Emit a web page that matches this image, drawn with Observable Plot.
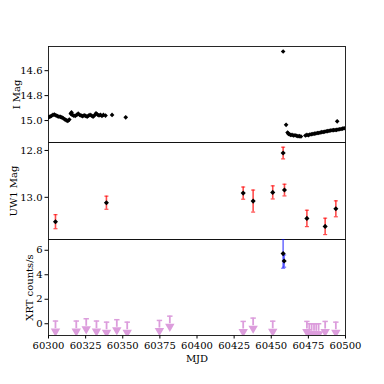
<!DOCTYPE html>
<html><head><meta charset="utf-8">
<script src="https://cdn.jsdelivr.net/npm/d3@7"></script>
<script src="https://cdn.jsdelivr.net/npm/@observablehq/plot@0.6"></script>
<style>
body{margin:0;background:#fff;}
#wrap{position:relative;width:384px;height:384px;}
#wrap svg{position:absolute;left:0;overflow:visible;}
</style></head><body><div id="wrap"></div>
<script>
// I band photometry
const iMjd = [60300,60301,60302,60303,60304,60305,60306,60307,60308,60309,60310,60311,60312,60313,60314,60315,60315.5,60316,60317,60318,60319,60320,60321,60322,60323,60324,60325,60326,60327,60328,60329,60330,60331,60332,60333,60334,60335,60336,60337,60338.4,60342.8,60352,
  60458,60460,60461,60461.5,60462,60463,60464,60465,60466,60467,60468,60469,60470,60473,60474,60475,60476,60477,60478,60479,60480,60481,60482,60483,60484,60485,60486,60487,60488,60489,60490,60491,60492,60493,60494,60494.4,60495,60496,60497,60498,60499,60500];
const iMag = [14.975,14.968,14.962,14.955,14.952,14.958,14.965,14.968,14.970,14.975,14.982,14.990,14.998,15.003,14.992,14.945,14.935,14.955,14.960,14.962,14.955,14.945,14.955,14.960,14.965,14.958,14.962,14.968,14.960,14.955,14.960,14.968,14.958,14.942,14.952,14.958,14.955,14.962,14.955,14.960,14.955,14.974,
  14.446,15.034,15.096,15.105,15.110,15.115,15.115,15.120,15.118,15.122,15.125,15.125,15.128,15.120,15.115,15.118,15.112,15.110,15.108,15.105,15.104,15.100,15.100,15.096,15.093,15.092,15.090,15.086,15.085,15.082,15.080,15.078,15.077,15.076,15.075,15.006,15.072,15.070,15.068,15.065,15.062,15.060];

// UVOT UW1 photometry
const uwMjd = [60304.7,60339.0,60431.1,60437.8,60451.0,60458.0,60458.9,60474.0,60486.3,60493.5];
const uwMag = [13.104,13.023,12.982,13.016,12.979,12.811,12.969,13.090,13.124,13.049];
const uwErr = [0.030,0.028,0.026,0.047,0.028,0.025,0.025,0.035,0.035,0.034];

// XRT detections
const xrtMjd = [60458.0,60458.7];
const xrtRate = [5.73,5.12];
const xrtErr = [1.2,0.5];

// XRT upper limits
const ulMjd = [60304.7,60318.7,60325.4,60332.3,60339.1,60346.0,60353.0,60374.7,60381.7,60431.1,60437.8,60451.0,60474.0,60475.6,60477.2,60478.8,60480.3,60481.9,60486.3,60493.5];
const ulRate = [0.22,0.22,0.41,0.22,0.13,0.33,0.13,0.27,0.62,0.19,0.46,0.21,0.19,0.0,0.0,0.0,0.0,0.0,0.19,0.13];
const ulArrow = 0.62;

const xTicks = [60300,60325,60350,60375,60400,60425,60450,60475,60500];
const iTicks = [14.6,14.8,15.0];
const uwTicks = [12.8,13.0];
const xrtTicks = [0,2,4,6];

const iData = iMjd.map((m,i)=>({mjd:m, mag:iMag[i]}));
const uwData = uwMjd.map((m,i)=>({mjd:m, mag:uwMag[i], err:uwErr[i]}));
const xrtData = xrtMjd.map((m,i)=>({mjd:m, rate:xrtRate[i], err:xrtErr[i]}));
const ulData = ulMjd.map((m,i)=>({mjd:m, rate:ulRate[i]}));

const W=384, ML=48, MR=39;
const style = {fontFamily:"'DejaVu Serif'", fontSize:"10px", color:"black", background:"transparent"};
const capSym = {draw(ctx,size){const w=Math.sqrt(size/Math.PI); ctx.moveTo(-w,0); ctx.lineTo(w,0);}};
const frame = Plot.frame({stroke:"#111", strokeWidth:0.9});
const axOpts = {tickSize:3.5, tickPadding:2.5, labelAnchor:"center", labelArrow:"none"};
const ulColor = "#dc9ddc";

const topPlot = Plot.plot({
  width:W, height:142, marginTop:46, marginBottom:0, marginLeft:ML, marginRight:MR, style,
  x:{domain:[60300,60500], axis:null},
  y:{domain:[14.406,15.176], reverse:true},
  marks:[
    Plot.axisY({...axOpts, ticks:iTicks, tickFormat:".1f", label:"I Mag", labelOffset:36}),
    frame,
    Plot.dot(iData,{x:"mjd", y:"mag", symbol:"diamond2", r:2.1, fill:"black", clip:true})
  ]
});

const midPlot = Plot.plot({
  width:W, height:97, marginTop:0, marginBottom:0, marginLeft:ML, marginRight:MR, style,
  x:{domain:[60300,60500], axis:null},
  y:{domain:[12.766,13.18], reverse:true},
  marks:[
    Plot.axisY({...axOpts, ticks:uwTicks, tickFormat:".1f", label:"UW1 Mag", labelOffset:39}),
    frame,
    Plot.ruleX(uwData,{x:"mjd", y1:d=>d.mag-d.err, y2:d=>d.mag+d.err, stroke:"red", strokeOpacity:0.7, strokeWidth:1.6}),
    Plot.dot(uwData,{x:"mjd", y:d=>d.mag-d.err, symbol:capSym, r:2, stroke:"red", strokeOpacity:0.7, strokeWidth:1.2}),
    Plot.dot(uwData,{x:"mjd", y:d=>d.mag+d.err, symbol:capSym, r:2, stroke:"red", strokeOpacity:0.7, strokeWidth:1.2}),
    Plot.dot(uwData,{x:"mjd", y:"mag", symbol:"diamond2", r:2.3, fill:"black"})
  ]
});

const botPlot = Plot.plot({
  width:W, height:145, marginTop:0, marginBottom:49, marginLeft:ML, marginRight:MR, style,
  x:{domain:[60300,60500]},
  y:{domain:[-0.96,6.88]},
  marks:[
    Plot.axisY({...axOpts, ticks:xrtTicks, tickFormat:"d", label:"XRT counts/s", labelOffset:23}),
    Plot.axisX({...axOpts, ticks:xTicks, tickFormat:"d", label:"MJD", labelOffset:26}),
    frame,
    Plot.ruleX(ulData,{x:"mjd", y1:d=>d.rate-ulArrow, y2:"rate", stroke:ulColor, strokeWidth:1.8, clip:true}),
    Plot.dot(ulData,{x:"mjd", y:"rate", symbol:capSym, r:2.7, stroke:ulColor, strokeWidth:1.5, clip:true}),
    Plot.dot(ulData,{x:"mjd", y:d=>d.rate-ulArrow, symbol:"triangle", rotate:180, dy:2.7, r:3.5, fill:ulColor, stroke:"none", clip:true}),
    Plot.ruleX(xrtData,{x:"mjd", y1:d=>d.rate-d.err, y2:d=>d.rate+d.err, stroke:"blue", strokeOpacity:0.55, strokeWidth:1.6, clip:true}),
    Plot.dot(xrtData,{x:"mjd", y:d=>d.rate-d.err, symbol:capSym, r:2, stroke:"blue", strokeOpacity:0.55, strokeWidth:1.2, clip:true}),
    Plot.dot(xrtData,{x:"mjd", y:d=>d.rate+d.err, symbol:capSym, r:2, stroke:"blue", strokeOpacity:0.55, strokeWidth:1.2, clip:true}),
    Plot.dot(xrtData,{x:"mjd", y:"rate", symbol:"diamond2", r:2.3, fill:"black"})
  ]
});

const wrap = document.getElementById("wrap");
topPlot.style.top = "0px"; midPlot.style.top = "142px"; botPlot.style.top = "239px";
wrap.append(topPlot, midPlot, botPlot);
</script></body></html>
